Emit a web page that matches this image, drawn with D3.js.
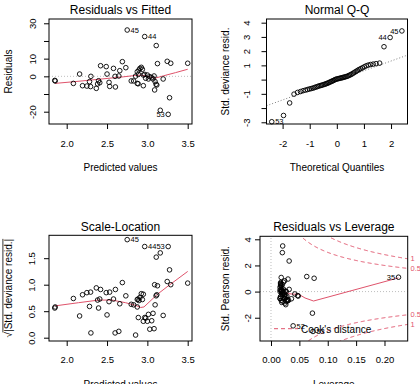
<!DOCTYPE html>
<html><head><meta charset="utf-8">
<script src="https://cdn.jsdelivr.net/npm/d3@7"></script>
<style>
body{margin:0;background:#fff}
svg{display:block}
</style></head><body>
<svg id="chart" width="420" height="384"></svg>
<script>
// ---------- data (one entry per observation) ----------
const fitted = [1.852,1.857,2.083,2.160,2.196,2.250,2.283,2.296,2.300,2.367,2.383,2.395,2.410,2.420,2.490,2.500,2.525,2.533,2.580,2.600,2.604,2.646,2.658,2.690,2.733,2.750,2.800,2.830,2.854,2.875,2.885,2.875,2.888,2.896,2.908,2.925,2.938,2.950,2.967,2.950,2.967,2.979,3.000,3.013,3.030,3.054,3.070,3.083,3.096,3.090,3.108,3.117,3.110,3.125,3.160,3.196,3.246,3.258,3.275,3.290,3.500];
const residuals = [-2.3,-2.6,-4.0,1.3,-5.3,-5.5,-3.0,-5.8,0.0,-6.8,-4.3,-2.5,-3.6,6.0,5.5,1.3,-3.4,-5.7,4.5,0.0,-6.0,0.2,3.2,8.3,4.9,26.2,-2.6,-2.6,0.1,-4.0,-4.2,2.6,1.1,3.6,4.5,5.1,4.0,-5.3,22.5,0.75,1.1,-1.1,0.75,-1.5,-0.2,-0.75,-1.5,0.2,-3.0,-7.7,-4.5,-4.9,17.4,7.2,-19.2,-1.5,8.5,-21.5,-12.1,7.4,7.4];
const sqrtAbsStdResid = [0.56,0.58,0.74,0.41,0.81,0.85,0.59,0.86,0.09,0.94,0.71,0.56,0.73,0.91,0.85,0.43,0.68,0.86,0.73,0.09,0.91,0.12,0.64,1.04,0.79,1.85,0.63,0.62,0.05,0.72,0.73,0.58,0.38,0.70,0.76,0.83,0.72,0.82,1.72,0.31,0.38,0.37,0.31,0.44,0.16,0.32,0.46,0.17,0.62,1.00,0.79,0.81,1.52,0.98,1.60,0.42,1.06,1.72,1.28,1.00,1.03];
const leverage = [0.047,0.048,0.036,0.032,0.031,0.029,0.028,0.027,0.027,0.025,0.025,0.024,0.024,0.024,0.022,0.022,0.021,0.021,0.020,0.019,0.019,0.018,0.018,0.018,0.017,0.0206,0.017,0.017,0.016,0.016,0.016,0.016,0.016,0.017,0.017,0.017,0.017,0.018,0.020,0.018,0.018,0.019,0.020,0.020,0.021,0.023,0.024,0.025,0.026,0.026,0.028,0.029,0.032,0.030,0.039,0.042,0.063,0.074,0.073,0.076,0.2247];
const stdPearsonResid = [-0.31,-0.34,-0.55,0.17,-0.66,-0.72,-0.35,-0.74,0.01,-0.88,-0.50,-0.31,-0.53,0.83,0.72,0.18,-0.46,-0.74,0.53,0.01,-0.83,0.01,0.41,1.08,0.62,3.49,-0.40,-0.38,0.00,-0.52,-0.53,0.34,0.14,0.49,0.58,0.69,0.52,-0.67,2.98,0.10,0.14,-0.14,0.10,-0.19,-0.03,-0.10,-0.21,0.03,-0.38,-1.00,-0.62,-0.66,2.34,0.96,-2.62,-0.18,1.15,-3.05,-1.65,1.02,1.10];

// Normal Q-Q (sorted std. deviance residuals vs theoretical quantiles)
const qqTheoretical = [-2.400,-1.966,-1.740,-1.578,-1.448,-1.340,-1.245,-1.160,-1.083,-1.012,-0.946,-0.883,-0.824,-0.768,-0.714,-0.662,-0.611,-0.562,-0.515,-0.468,-0.423,-0.379,-0.335,-0.292,-0.249,-0.207,-0.165,-0.124,-0.082,-0.041,0,0.041,0.082,0.124,0.165,0.207,0.249,0.292,0.335,0.379,0.423,0.468,0.515,0.562,0.611,0.662,0.714,0.768,0.824,0.883,0.946,1.012,1.083,1.160,1.245,1.340,1.448,1.578,1.740,1.966,2.400];
const qqSample = [-2.96,-2.52,-1.64,-1.02,-0.90,-0.84,-0.78,-0.74,-0.70,-0.66,-0.63,-0.60,-0.56,-0.52,-0.49,-0.45,-0.42,-0.40,-0.37,-0.34,-0.31,-0.28,-0.25,-0.21,-0.17,-0.13,-0.10,-0.06,-0.02,0.02,0.04,0.06,0.08,0.10,0.12,0.14,0.16,0.18,0.21,0.23,0.27,0.31,0.35,0.40,0.46,0.52,0.58,0.65,0.71,0.77,0.83,0.90,0.97,1.02,1.06,1.09,1.12,1.16,2.31,2.96,3.42];
const qqLineIntercept = -0.062;
const qqLineSlope = 0.684;

// smoother lines
const smoothFitX = [1.854,2.1,2.3,2.5,2.7,2.85,2.92,2.98,3.04,3.10,3.2,3.35,3.5];
const smoothFitY = [-4.0,-3.0,-2.1,-1.2,-0.3,0.5,0.7,0.2,-0.5,-1.0,0.3,2.1,4.0];
const smoothScaleX = [1.854,2.146,2.396,2.5625,2.73,2.854,2.917,2.958,3.125,3.27,3.5];
const smoothScaleY = [0.60,0.66,0.71,0.71,0.66,0.61,0.57,0.58,0.82,0.99,1.25];
const smoothLevX = [0.016,0.024,0.031,0.040,0.048,0.060,0.075,0.2247];
const smoothLevY = [0.15,0.0,-0.16,-0.2,-0.18,-0.49,-0.72,1.05];

// Cook's distance contours
const cookLevels = [0.5, 1];
const nParams = 2;

// identified observations
const labelIndex = [25, 38, 57, 54, 60];
const labelText  = ["45","44","53","52","35"];

// ticks
const fitXTicks = [2.0,2.5,3.0,3.5];
const fitXTickLabels = ["2.0","2.5","3.0","3.5"];
const resYTicks = [-20,-10,0,10,20,30];
const resYTickLabels = ["-20","","0","10","","30"];
const qqXTicks = [-2,-1,0,1,2];
const qqXTickLabels = ["-2","-1","0","1","2"];
const qqYTicks = [-3,-2,-1,0,1,2,3,4];
const qqYTickLabels = ["-3","","-1","","1","2","3","4"];
const slYTicks = [0,0.5,1,1.5];
const slYTickLabels = ["0.0","0.5","1.0","1.5"];
const levXTicks = [0,0.05,0.10,0.15,0.20];
const levXTickLabels = ["0.00","0.05","0.10","0.15","0.20"];
const levYTicks = [-2,0,2,4];
const levYTickLabels = ["-2","0","2","4"];

// ---------- drawing ----------
const FONT = '"Liberation Sans", Arial, Helvetica, sans-serif';
const RED = "#DF536B";
const svg = d3.select("#chart").attr("font-family", FONT);

function panel(o) {
  const x = d3.scaleLinear().domain(o.xDomain).range([o.left, o.right]);
  const y = d3.scaleLinear().domain(o.yDomain).range([o.bottom, o.top]);
  const g = svg.append("g");
  const cid = "clip-" + o.id;
  g.append("clipPath").attr("id", cid).append("rect")
    .attr("x", o.left).attr("y", o.top).attr("width", o.right - o.left).attr("height", o.bottom - o.top);
  const inner = g.append("g").attr("clip-path", `url(#${cid})`);

  const xa = g.append("g").attr("transform", `translate(0,${o.bottom})`)
    .call(d3.axisBottom(x).tickValues(o.xTicks).tickFormat((d,i)=>o.xTickLabels[i]).tickSize(5).tickSizeOuter(0));
  xa.select(".domain").remove();
  xa.attr("font-family", FONT).attr("font-size", 9.5);
  xa.selectAll("line").attr("stroke", "#000");
  xa.selectAll("text").attr("y", o.xLabOff).attr("dy", "0.35em").attr("fill", "#000");

  const ya = g.append("g").attr("transform", `translate(${o.left},0)`)
    .call(d3.axisLeft(y).tickValues(o.yTicks).tickFormat((d,i)=>o.yTickLabels[i]).tickSize(5).tickSizeOuter(0));
  ya.select(".domain").remove();
  ya.attr("font-family", FONT).attr("font-size", 9.5);
  ya.selectAll("line").attr("stroke", "#000");
  ya.selectAll("text").attr("x", 0).attr("dy", "0.35em").attr("text-anchor", "middle")
    .attr("transform", `translate(${-o.yLabOff},0) rotate(-90)`).attr("fill", "#000");

  g.append("rect").attr("x", o.left).attr("y", o.top)
    .attr("width", o.right - o.left).attr("height", o.bottom - o.top)
    .attr("fill", "none").attr("stroke", "#000").attr("stroke-width", 1);

  g.append("text").attr("x", (o.left + o.right) / 2).attr("y", o.titleY)
    .attr("text-anchor", "middle").attr("font-size", 12).text(o.title);
  g.append("text").attr("x", (o.left + o.right) / 2).attr("y", o.xTitleY)
    .attr("text-anchor", "middle").attr("font-size", 10).text(o.xTitle);
  if (o.yTitle) {
    g.append("text").attr("transform", `translate(${o.yTitleX},${(o.top + o.bottom) / 2}) rotate(-90)`)
      .attr("text-anchor", "middle").attr("dy", "0.35em").attr("font-size", 10).text(o.yTitle);
  }
  return {x, y, g, inner};
}

function drawPoints(p, xs, ys) {
  p.g.append("g").selectAll("circle").data(xs).join("circle")
    .attr("cx", (d) => p.x(d)).attr("cy", (d, i) => p.y(ys[i])).attr("r", 2.3)
    .attr("fill", "none").attr("stroke", "#000").attr("stroke-width", 0.9);
}
function drawLabel(p, xv, yv, txt, side) {
  p.g.append("text").attr("x", p.x(xv) + (side === "right" ? 3.4 : -3.4)).attr("y", p.y(yv))
    .attr("dy", "0.36em").attr("text-anchor", side === "right" ? "start" : "end")
    .attr("font-size", 7.5).attr("fill", "#000").text(txt);
}
function drawSmooth(p, xs, ys) {
  p.inner.append("path").datum(xs)
    .attr("d", d3.line().x((d) => p.x(d)).y((d, i) => p.y(ys[i])))
    .attr("fill", "none").attr("stroke", RED).attr("stroke-width", 1);
}

// Panel 1: Residuals vs Fitted
const p1 = panel({id:"p1", left:49, right:192, top:19, bottom:124,
  xDomain:[1.7806, 3.5533], yDomain:[-26.96, 32.43],
  xTicks:fitXTicks, xTickLabels:fitXTickLabels, yTicks:resYTicks, yTickLabels:resYTickLabels,
  xLabOff:20, yLabOff:16.5, title:"Residuals vs Fitted", titleY:14.3,
  xTitle:"Predicted values", xTitleY:170.5, yTitle:"Residuals", yTitleX:8.5});
p1.inner.append("line").attr("x1", p1.x.range()[0]).attr("x2", p1.x.range()[1])
  .attr("y1", p1.y(0)).attr("y2", p1.y(0)).attr("stroke", "#bebebe").attr("stroke-dasharray", "1,2");
drawPoints(p1, fitted, residuals);
drawSmooth(p1, smoothFitX, smoothFitY);
drawLabel(p1, fitted[labelIndex[0]], residuals[labelIndex[0]], labelText[0], "right");
drawLabel(p1, fitted[labelIndex[1]], residuals[labelIndex[1]], labelText[1], "right");
drawLabel(p1, fitted[labelIndex[2]], residuals[labelIndex[2]], labelText[2], "left");

// Panel 2: Normal Q-Q
const p2 = panel({id:"p2", left:266.5, right:407.5, top:19, bottom:124,
  xDomain:[-2.594, 2.607], yDomain:[-3.12, 4.259],
  xTicks:qqXTicks, xTickLabels:qqXTickLabels, yTicks:qqYTicks, yTickLabels:qqYTickLabels,
  xLabOff:20, yLabOff:19.5, title:"Normal Q-Q", titleY:14.3,
  xTitle:"Theoretical Quantiles", xTitleY:170.5, yTitle:"Std. deviance resid.", yTitleX:225});
{
  const [a, b] = p2.x.domain();
  p2.inner.append("line").attr("x1", p2.x(a)).attr("x2", p2.x(b))
    .attr("y1", p2.y(qqLineIntercept + qqLineSlope * a)).attr("y2", p2.y(qqLineIntercept + qqLineSlope * b))
    .attr("stroke", "#7f7f7f").attr("stroke-dasharray", "1,2");
}
drawPoints(p2, qqTheoretical, qqSample);
drawLabel(p2, qqTheoretical[0], qqSample[0], "53", "right");
drawLabel(p2, qqTheoretical[59], qqSample[59], "44", "left");
drawLabel(p2, qqTheoretical[60], qqSample[60], "45", "left");

// Panel 3: Scale-Location
const p3 = panel({id:"p3", left:49, right:192, top:235.3, bottom:341,
  xDomain:[1.7806, 3.5533], yDomain:[-0.0623, 1.932],
  xTicks:fitXTicks, xTickLabels:fitXTickLabels, yTicks:slYTicks, yTickLabels:slYTickLabels,
  xLabOff:18.5, yLabOff:17.5, title:"Scale-Location", titleY:230.5,
  xTitle:"Predicted values", xTitleY:387.5, yTitle:null});
{
  const gl = p3.g.append("g").attr("transform", `translate(8.5,${(235.3 + 341) / 2}) rotate(-90)`).attr("font-size", 10);
  const t1 = gl.append("text").attr("y", 3.5).text("\u221A");
  const t2 = gl.append("text").attr("y", 3.5).text("|Std. deviance resid.|");
  const w1 = t1.node().getComputedTextLength();
  const w2 = t2.node().getComputedTextLength();
  const x0 = -(w1 + w2) / 2;
  t1.attr("x", x0);
  t2.attr("x", x0 + w1);
  gl.append("line").attr("x1", x0 + w1 - 0.5).attr("x2", x0 + w1 + w2)
    .attr("y1", -5.6).attr("y2", -5.6).attr("stroke", "#000").attr("stroke-width", 0.8);
}
drawPoints(p3, fitted, sqrtAbsStdResid);
drawSmooth(p3, smoothScaleX, smoothScaleY);
drawLabel(p3, fitted[labelIndex[0]], sqrtAbsStdResid[labelIndex[0]], labelText[0], "right");
drawLabel(p3, fitted[labelIndex[1]], sqrtAbsStdResid[labelIndex[1]], labelText[1], "right");
drawLabel(p3, fitted[labelIndex[2]], sqrtAbsStdResid[labelIndex[2]], labelText[2], "left");

// Panel 4: Residuals vs Leverage
const p4 = panel({id:"p4", left:260, right:407.7, top:236.3, bottom:341,
  xDomain:[-0.01938, 0.2409], yDomain:[-3.78, 4.23],
  xTicks:levXTicks, xTickLabels:levXTickLabels, yTicks:levYTicks, yTickLabels:levYTickLabels,
  xLabOff:18.5, yLabOff:12, title:"Residuals vs Leverage", titleY:230.6,
  xTitle:"Leverage", xTitleY:387.5, yTitle:"Std. Pearson resid.", yTitleX:225});
p4.inner.append("line").attr("x1", p4.x.range()[0]).attr("x2", p4.x.range()[1])
  .attr("y1", p4.y(0)).attr("y2", p4.y(0)).attr("stroke", "#bebebe").attr("stroke-dasharray", "1,2");
p4.inner.append("line").attr("x1", p4.x(0)).attr("x2", p4.x(0))
  .attr("y1", p4.y.range()[0]).attr("y2", p4.y.range()[1]).attr("stroke", "#bebebe").attr("stroke-dasharray", "1,2");
{
  const hMax = p4.x.domain()[1];
  const hGrid = d3.range(0.002, hMax + 0.001, 0.001);
  cookLevels.forEach((lvl) => {
    [1, -1].forEach((sgn) => {
      p4.inner.append("path").datum(hGrid)
        .attr("d", d3.line().x((h) => p4.x(h)).y((h) => p4.y(sgn * Math.sqrt(lvl * nParams * (1 - h) / h))))
        .attr("fill", "none").attr("stroke", RED).attr("stroke-width", 1).attr("stroke-dasharray", "4,3");
      p4.g.append("text").attr("x", 410.5).attr("y", p4.y(sgn * Math.sqrt(lvl * nParams * (1 - hMax) / hMax)))
        .attr("dy", "0.36em").attr("font-size", 7.5).attr("fill", RED).text(String(lvl));
    });
  });
}
drawPoints(p4, leverage, stdPearsonResid);
drawSmooth(p4, smoothLevX, smoothLevY);
drawLabel(p4, leverage[labelIndex[4]], stdPearsonResid[labelIndex[4]], labelText[4], "left");
drawLabel(p4, leverage[labelIndex[3]], stdPearsonResid[labelIndex[3]], labelText[3], "right");
drawLabel(p4, leverage[labelIndex[2]], stdPearsonResid[labelIndex[2]], labelText[2], "right");
// legend
p4.g.append("line").attr("x1", 274).attr("x2", 298).attr("y1", 328.7).attr("y2", 328.7)
  .attr("stroke", RED).attr("stroke-width", 1).attr("stroke-dasharray", "4,3");
p4.g.append("text").attr("x", 301).attr("y", 329.7).attr("dy", "0.35em")
  .attr("font-size", 10).text("Cook's distance");
</script>
</body></html>
